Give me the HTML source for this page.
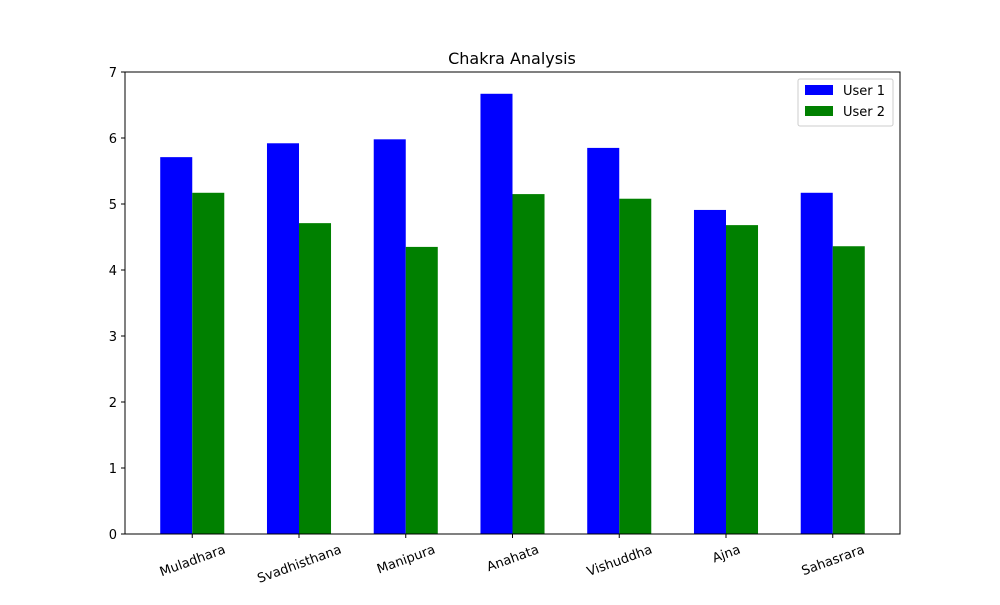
<!DOCTYPE html>
<html><head><meta charset="utf-8"><style>
body{margin:0;background:#fff;font-family:"Liberation Sans","DejaVu Sans",sans-serif;}
</style></head><body>
<svg id="chart" width="1000" height="600" xmlns="http://www.w3.org/2000/svg" font-family="DejaVu Sans, Liberation Sans, sans-serif">
<rect width="1000" height="600" fill="#fff"/>
<text x="512" y="64" text-anchor="middle" font-size="16">Chakra Analysis</text>
<g id="bars"></g>
<g id="axes"></g>
<g>
<rect x="798" y="79" width="95" height="47" fill="#fff" stroke="#ccc" rx="2"/>
<rect x="805" y="85" width="28" height="10" fill="#0000ff"/>
<text x="843" y="95" font-size="13">User 1</text>
<rect x="805" y="106" width="28" height="10" fill="#008000"/>
<text x="843" y="116" font-size="13">User 2</text>
</g>
</svg>
<script>
const categories=["Muladhara","Svadhisthana","Manipura","Anahata","Vishuddha","Ajna","Sahasrara"];
const user1=[5.71,5.92,5.98,6.67,5.85,4.91,5.17];
const user2=[5.17,4.71,4.35,5.15,5.08,4.68,4.36];
const yTicks=[0,1,2,3,4,5,6,7];
const L=125,R=900,T=72,B=534,xmin=-0.63,xmax=6.63,ymax=7;
const xs=v=>L+(v-xmin)/(xmax-xmin)*(R-L);
const ys=v=>B-v/ymax*(B-T);
const NS="http://www.w3.org/2000/svg";
const bars=document.getElementById('bars'),axes=document.getElementById('axes');
function mk(tag,attrs,parent){const e=document.createElementNS(NS,tag);for(const k in attrs)e.setAttribute(k,attrs[k]);parent.appendChild(e);return e;}
const s20=Math.sin(20*Math.PI/180),c20=Math.cos(20*Math.PI/180);
categories.forEach((c,i)=>{
 const w=xs(0.3)-xs(0);
 let r=mk('rect',{x:xs(i-0.3),y:ys(user1[i]),width:w,height:ys(0)-ys(user1[i]),fill:'#0000ff'},bars);
 
 
 r=mk('rect',{x:xs(i),y:ys(user2[i]),width:w,height:ys(0)-ys(user2[i]),fill:'#008000'},bars);
 
 
 const x=xs(i);
 mk('line',{x1:x,x2:x,y1:B,y2:B+4,stroke:'#000'},axes);
 const g=mk('g',{},axes);
 const t=mk('text',{x:0,y:5,'font-size':13,'text-anchor':'middle'},g);
 t.textContent=c;
 
 
 const tw=t.getComputedTextLength();
 const H=tw*s20+13*c20;
 const cy=B+8+H/2;
 g.setAttribute('transform',`translate(${x} ${cy}) rotate(-20)`);
});
yTicks.forEach(v=>{
 const y=ys(v);
 mk('line',{x1:L-4,x2:L,y1:y,y2:y,stroke:'#000'},axes);
 const t=mk('text',{x:L-8,y:y+5,'font-size':13,'text-anchor':'end'},axes);
 t.textContent=v;
 
 
});
const f=mk('rect',{x:L,y:T,width:R-L,height:B-T,fill:'none',stroke:'#000','stroke-width':1},axes);


</script>
</body></html>
